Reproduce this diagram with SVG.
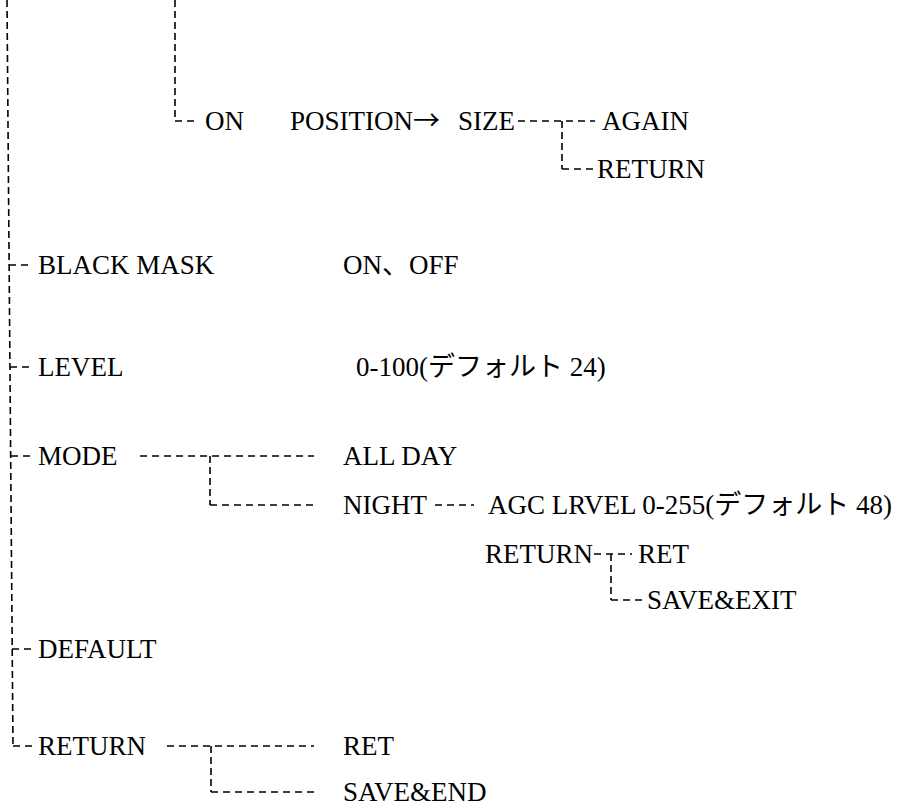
<svg xmlns="http://www.w3.org/2000/svg" width="905" height="809" viewBox="0 0 905 809">
<style>
text{font-family:"Liberation Serif","Noto Sans CJK JP",serif;font-size:27px;fill:#000}
.jp{font-family:"Noto Sans CJK JP","Liberation Serif",sans-serif}
.c path{stroke:#000;stroke-width:1.6;fill:none}
.h{stroke-dasharray:7 5}
.v{stroke-dasharray:7 4}
</style>
<rect width="905" height="809" fill="#fff"/>
<g class="c" id="connectors">
<path class="v" d="M7 0 L13 746"/>
<path class="h" d="M13 746 H33"/>
<path class="h" d="M9 265 H33"/>
<path class="h" d="M10 367 H33"/>
<path class="h" d="M11 456 H33"/>
<path class="h" d="M12 649 H33"/>
<path class="v" d="M175 0 V121"/>
<path class="h" d="M175 121 H196"/>
<path class="h" d="M518 121 H595"/>
<path class="v" d="M562 121 V169"/>
<path class="h" d="M562 169 H595"/>
<path class="h" d="M140 456 H314"/>
<path class="v" d="M210 456 V505"/>
<path class="h" d="M210 505 H314"/>
<path class="h" d="M435 505 H474"/>
<path class="h" d="M594 554 H632"/>
<path class="v" d="M611 554 V600"/>
<path class="h" d="M611 600 H642"/>
<path class="h" d="M167 746 H314"/>
<path class="v" d="M211 746 V792"/>
<path class="h" d="M211 792 H314"/>
</g>
<g id="n-on"><text x="205" y="130">ON</text></g>
<g id="n-position"><text x="290" y="130">POSITION<tspan class="jp">→</tspan></text></g>
<g id="n-size"><text x="458" y="130">SIZE</text></g>
<g id="n-again"><text x="602" y="130">AGAIN</text></g>
<g id="n-return1"><text x="597" y="178">RETURN</text></g>
<g id="n-blackmask"><text x="38" y="274">BLACK MASK</text></g>
<g id="n-onoff"><text x="343" y="274">ON、OFF</text></g>
<g id="n-level"><text x="38" y="376">LEVEL</text></g>
<g id="n-level-val"><text x="356" y="376">0-100(デフォルト 24)</text></g>
<g id="n-mode"><text x="38" y="465">MODE</text></g>
<g id="n-allday"><text x="343" y="465">ALL DAY</text></g>
<g id="n-night"><text x="343" y="514">NIGHT</text></g>
<g id="n-agc"><text x="488" y="514">AGC LRVEL 0-255(デフォルト 48)</text></g>
<g id="n-return2"><text x="485" y="563">RETURN</text></g>
<g id="n-ret2"><text x="638" y="563">RET</text></g>
<g id="n-saveexit"><text x="647" y="609">SAVE&amp;EXIT</text></g>
<g id="n-default"><text x="38" y="658">DEFAULT</text></g>
<g id="n-return3"><text x="38" y="755">RETURN</text></g>
<g id="n-ret3"><text x="343" y="755">RET</text></g>
<g id="n-saveend"><text x="343" y="801">SAVE&amp;END</text></g>
</svg>
